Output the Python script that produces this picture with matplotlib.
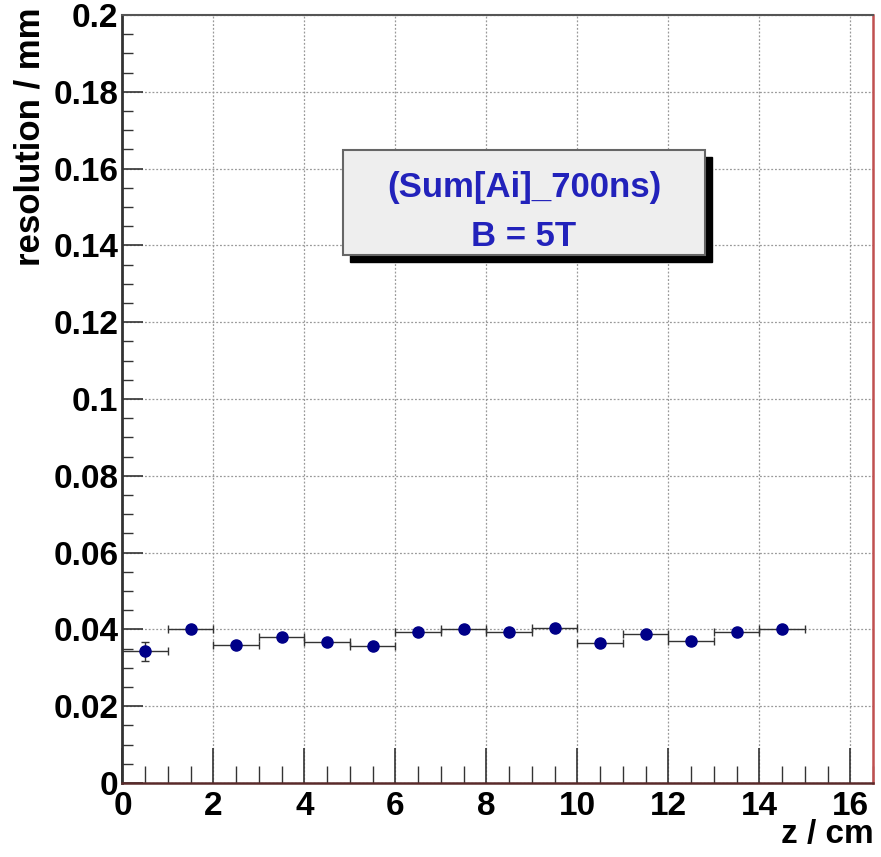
import matplotlib
matplotlib.use("Agg")
import matplotlib.pyplot as plt
from matplotlib.patches import Rectangle
from matplotlib.ticker import MultipleLocator
import numpy as np

plt.rcParams['font.family'] = ['Liberation Sans', 'DejaVu Sans']
plt.rcParams['font.weight'] = 'bold'

# bin centres (cm) and resolution (mm)
z = [0.5, 1.5, 2.5, 3.5, 4.5, 5.5, 6.5, 7.5, 8.5, 9.5, 10.5, 11.5, 12.5, 13.5, 14.5]
res = [0.0343, 0.0400, 0.0359, 0.0381, 0.0367, 0.0357, 0.0394, 0.0400,
       0.0394, 0.0405, 0.0364, 0.0388, 0.0371, 0.0394, 0.0401]
res_err = [0.0025, 0.0004, 0.0004, 0.0004, 0.0004, 0.0004, 0.0004, 0.0004,
           0.0004, 0.0004, 0.0004, 0.0004, 0.0004, 0.0004, 0.0004]
bin_half = [0.5] * len(z)

fig = plt.figure(figsize=(8.81, 8.57), dpi=100)
ax = fig.add_axes([0.139, 0.0863, 0.852, 0.8962])

ax.errorbar(z, res, xerr=bin_half, yerr=res_err, fmt='none', ecolor='#333333',
            elinewidth=1.0, capsize=3, capthick=1.0, zorder=3)
ax.plot(z, res, 'o', color='#000088', markersize=8, zorder=4)

ax.set_xlim(0, 16.5)
ax.set_ylim(0, 0.2)
ax.xaxis.set_major_locator(MultipleLocator(2))
ax.xaxis.set_minor_locator(MultipleLocator(0.5))
ax.yaxis.set_major_locator(MultipleLocator(0.02))
ax.yaxis.set_minor_locator(MultipleLocator(0.005))
ax.set_yticks(np.arange(0, 0.2001, 0.02))
ax.set_yticklabels(['0', '0.02', '0.04', '0.06', '0.08', '0.1', '0.12',
                    '0.14', '0.16', '0.18', '0.2'])

ax.grid(True, which='major', linestyle=(0, (1.5, 1.5)), color='#999999', linewidth=0.9)
ax.set_axisbelow(True)

ax.tick_params(axis='x', which='major', direction='in', length=25, width=1.2,
               labelsize=24, pad=6, color='#333333')
ax.tick_params(axis='x', which='minor', direction='in', length=12, width=1.0,
               color='#333333')
ax.tick_params(axis='y', which='major', direction='in', length=15, width=1.2,
               labelsize=24, pad=3, color='#333333')
ax.tick_params(axis='y', which='minor', direction='in', length=8, width=1.0,
               color='#333333')
for lab in ax.get_xticklabels() + ax.get_yticklabels():
    lab.set_fontweight('bold')

ax.spines['left'].set_color('#333333')
ax.spines['left'].set_linewidth(2.0)
ax.spines['top'].set_color('#555555')
ax.spines['top'].set_linewidth(1.5)
ax.spines['bottom'].set_color('#5a2a2a')
ax.spines['bottom'].set_linewidth(1.8)
ax.spines['right'].set_color('#c05050')
ax.spines['right'].set_linewidth(1.8)

# title box with shadow
bx, by, bw, bh = 0.294, 0.6875, 0.482, 0.1365
ax.add_patch(Rectangle((bx + 0.0093, by - 0.0091), bw, bh, transform=ax.transAxes,
                       facecolor='black', edgecolor='black', zorder=5))
ax.add_patch(Rectangle((bx, by), bw, bh, transform=ax.transAxes,
                       facecolor='#eeeeee', edgecolor='#666666', linewidth=1.5, zorder=6))
ax.text(bx + bw / 2, 0.775, '(Sum[Ai]_700ns)', transform=ax.transAxes,
        ha='center', va='center', fontsize=25, fontweight='bold', color='#2222bb', zorder=7)
ax.text(bx + bw / 2, 0.712, 'B = 5T', transform=ax.transAxes,
        ha='center', va='center', fontsize=25, fontweight='bold', color='#2222bb', zorder=7)

fig.text(30 / 881, 1 - 8 / 857, 'resolution / mm', rotation=90, ha='center', va='top',
         fontsize=25, fontweight='bold')
fig.text(874 / 881, 1 - 835 / 857, 'z / cm', ha='right', va='center',
         fontsize=24, fontweight='bold')

fig.savefig('out.png', dpi=100)
